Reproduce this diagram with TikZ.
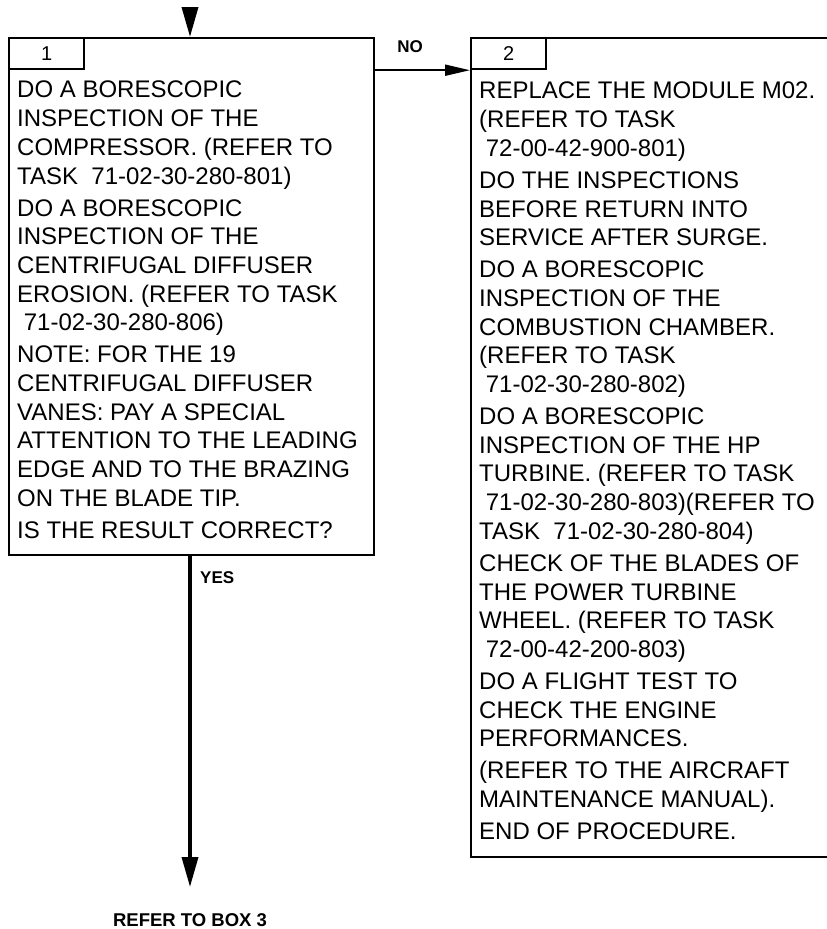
\documentclass[tikz,border=0pt]{standalone}
\usepackage{fontspec}
\setmainfont{Liberation Sans}
\usetikzlibrary{arrows.meta,positioning}

\begin{document}
\begin{tikzpicture}[x=1pt, y=1pt, font=\fontsize{24}{28.7}\selectfont]
  \tikzset{
    frame/.style={draw, line width=2.2pt, anchor=north west, inner sep=0pt},
    tab/.style={draw, line width=2.2pt, anchor=north west, minimum width=75pt, minimum height=31pt, inner sep=0pt, font=\fontsize{20}{24}\selectfont},
    steptext/.style={anchor=north west, align=left, inner sep=0pt},
    tag/.style={font=\fontsize{17}{20}\selectfont\bfseries, inner sep=0pt},
    flow/.style={line width=3.5pt, -{Triangle[length=30pt, width=16pt]}},
    branch/.style={line width=2pt, -{Triangle[length=25pt, width=11pt]}}
  }
  \useasboundingbox (0,0) rectangle (827,-929);
  % box 1
  \node[frame, minimum width=365pt, minimum height=517pt] (box1) at (8,-37) {};
  \node[tab] (num1) at (box1.north west) {1};
  \node[steptext] (text1) at (17,-81) {DO A BORESCOPIC\\
    INSPECTION OF THE\\
    COMPRESSOR. (REFER TO\\
    TASK\ \ 71-02-30-280-801)\\[3.3pt]
    DO A BORESCOPIC\\
    INSPECTION OF THE\\
    CENTRIFUGAL DIFFUSER\\
    EROSION. (REFER TO TASK\\
    \ 71-02-30-280-806)\\[3.3pt]
    NOTE: FOR THE 19\\
    CENTRIFUGAL DIFFUSER\\
    VANES: PAY A SPECIAL\\
    ATTENTION TO THE LEADING\\
    EDGE AND TO THE BRAZING\\
    ON THE BLADE TIP.\\[3.3pt]
    IS THE RESULT CORRECT?};
  % box 2
  \node[frame, minimum width=380pt, minimum height=819pt] (box2) at (470,-37) {};
  \node[tab] (num2) at (box2.north west) {2};
  \node[steptext] (text2) at (479,-82) {REPLACE THE MODULE M02.\\
    (REFER TO TASK\\
    \ 72-00-42-900-801)\\[3.3pt]
    DO THE INSPECTIONS\\
    BEFORE RETURN INTO\\
    SERVICE AFTER SURGE.\\[3.3pt]
    DO A BORESCOPIC\\
    INSPECTION OF THE\\
    COMBUSTION CHAMBER.\\
    (REFER TO TASK\\
    \ 71-02-30-280-802)\\[3.3pt]
    DO A BORESCOPIC\\
    INSPECTION OF THE HP\\
    TURBINE. (REFER TO TASK\\
    \ 71-02-30-280-803)(REFER TO\\
    TASK\ \ 71-02-30-280-804)\\[3.3pt]
    CHECK OF THE BLADES OF\\
    THE POWER TURBINE\\
    WHEEL. (REFER TO TASK\\
    \ 72-00-42-200-803)\\[3.3pt]
    DO A FLIGHT TEST TO\\
    CHECK THE ENGINE\\
    PERFORMANCES.\\[3.3pt]
    (REFER TO THE AIRCRAFT\\
    MAINTENANCE MANUAL).\\[3.3pt]
    END OF PROCEDURE.};
  % connectors
  \coordinate (entry) at (190,-8);
  \coordinate (exit) at (190,-887);
  \draw[flow] (entry) -- (entry |- box1.north);
  \draw[branch] (box1.east |- num2.south west) -- (num2.south west);
  \draw[flow] (exit |- box1.south) -- (exit);
  \node[tag] (no) at (410,-47) {NO};
  \node[tag, anchor=west] (yes) at (200,-578) {YES};
  \node[tag, font=\fontsize{18.5}{22}\selectfont\bfseries] (box3ref) at (190,-920) {REFER TO BOX 3};
\end{tikzpicture}
\end{document}
